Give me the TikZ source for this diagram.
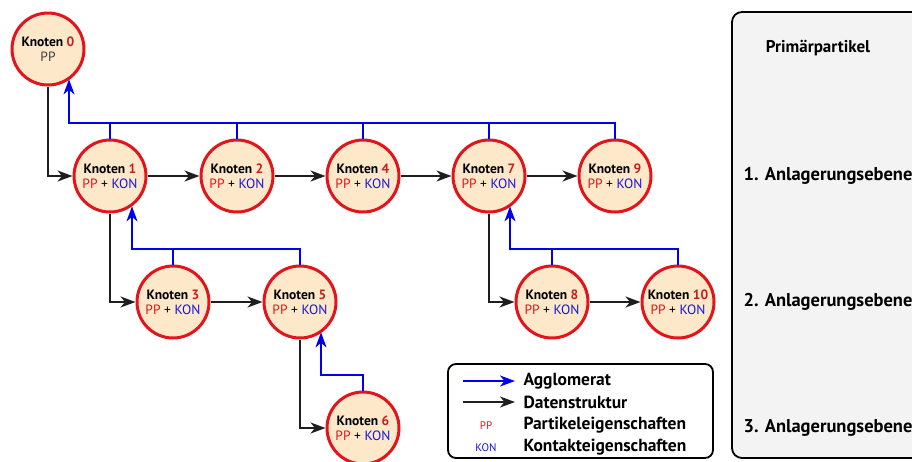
\documentclass[tikz,border=0pt]{standalone}
\usepackage{fontspec}
\setmainfont{PT Sans}
\usetikzlibrary{arrows.meta}
\definecolor{nred}{RGB}{228,20,28}
\definecolor{nnum}{RGB}{200,30,30}
\definecolor{nblue}{RGB}{20,20,220}
\definecolor{nfill}{RGB}{253,233,201}
\definecolor{agg}{RGB}{0,0,235}
\definecolor{dat}{RGB}{30,30,30}
\definecolor{panel}{RGB}{243,243,243}
\tikzset{
  knot/.style={circle, draw=nred, line width=3pt, fill=nfill, minimum size=72pt,
    inner sep=0pt, align=center, font=\fontsize{13.5}{15}\selectfont},
  tip/.style={-{Stealth[length=15pt,width=11pt,inset=4.5pt]}},
  aggline/.style={draw=agg, line width=1.8pt},
  aggarrow/.style={aggline, tip},
  datarrow/.style={draw=dat, line width=1.8pt, tip},
  level/.style={anchor=west, font=\fontsize{18.5}{20}\selectfont\bfseries},
  legtext/.style={anchor=west, font=\fontsize{17.5}{19}\selectfont\bfseries},
}
\newcommand{\knlabel}[1]{\textbf{Knoten \textcolor{nnum}{#1}}\\\textcolor{nred}{PP} + \textcolor{nblue}{KON}}
\begin{document}
\begin{tikzpicture}[x=1pt,y=-1pt]
\useasboundingbox (0,0) rectangle (912,461);

% level panel on the right
\draw[fill=panel, line width=1.8pt, rounded corners=10pt] (732,12) rectangle (940,458);
\node[anchor=center, font=\fontsize{17}{19}\selectfont\bfseries] (lp) at (818,48) {Primärpartikel};
\node[level] (l1) at (740,176) {1. Anlagerungsebene};
\node[level] (l2) at (740,302) {2. Anlagerungsebene};
\node[level] (l3) at (740,428) {3. Anlagerungsebene};

% nodes
\node[knot] (n0) at (48,49) {\textbf{Knoten \textcolor{nnum}{0}}\\\textcolor{dat!85}{PP}};
\node[knot] (n1) at (110,176) {\knlabel{1}};
\node[knot] (n2) at (237,176) {\knlabel{2}};
\node[knot] (n4) at (363,176) {\knlabel{4}};
\node[knot] (n7) at (489,176) {\knlabel{7}};
\node[knot] (n9) at (615,176) {\knlabel{9}};
\node[knot] (n3) at (173,302) {\knlabel{3}};
\node[knot] (n5) at (300,302) {\knlabel{5}};
\node[knot] (n8) at (552,302) {\knlabel{8}};
\node[knot] (n10) at (678,302) {\knlabel{10}};
\node[knot] (n6) at (363,428) {\knlabel{6}};

% agglomerate links (blue)
\coordinate (b0) at (69,123);
\coordinate (b1) at (132,249);
\coordinate (b5) at (321,375);
\coordinate (b7) at (510,249);
\foreach \n in {n1,n2,n4,n7} \draw[aggline] (\n.north) -- (\n.north |- b0);
\draw[aggarrow] (n9.north) |- (b0) -- (b0 |- n0.-54);
\draw[aggline] (n3.north) -- (n3.north |- b1);
\draw[aggarrow] (n5.north) |- (b1) -- (b1 |- n1.-54);
\draw[aggarrow] (n6.north) |- (b5) -- (b5 |- n5.-54);
\draw[aggline] (n8.north) -- (n8.north |- b7);
\draw[aggarrow] (n10.north) |- (b7) -- (b7 |- n7.-54);

% data structure links (black)
\draw[datarrow] (n0.south) |- (n1.west);
\draw[datarrow] (n1) -- (n2);
\draw[datarrow] (n2) -- (n4);
\draw[datarrow] (n4) -- (n7);
\draw[datarrow] (n7) -- (n9);
\draw[datarrow] (n1.south) |- (n3.west);
\draw[datarrow] (n3) -- (n5);
\draw[datarrow] (n5.south) |- (n6.west);
\draw[datarrow] (n7.south) |- (n8.west);
\draw[datarrow] (n8) -- (n10);

% legend
\draw[fill=white, line width=1.8pt, rounded corners=8pt] (448,364) rectangle (713,458);
\coordinate (la) at (463,381);
\coordinate (lb) at (515,381);
\coordinate (lc) at (463,402);
\coordinate (ld) at (515,402);
\draw[aggarrow] (la) -- (lb);
\draw[datarrow] (lc) -- (ld);
\node[legtext] (t1) at (520,381) {Agglomerat};
\node[legtext] (t2) at (520,402) {Datenstruktur};
\node[legtext] (t3) at (520,425) {Partikeleigenschaften};
\node[legtext] (t4) at (520,447) {Kontakteigenschaften};
\node[font=\fontsize{11}{13}\selectfont, text=nred] (pp) at (486,426) {PP};
\node[font=\fontsize{11}{13}\selectfont, text=nblue] (kon) at (486,448) {KON};
\end{tikzpicture}
\end{document}
